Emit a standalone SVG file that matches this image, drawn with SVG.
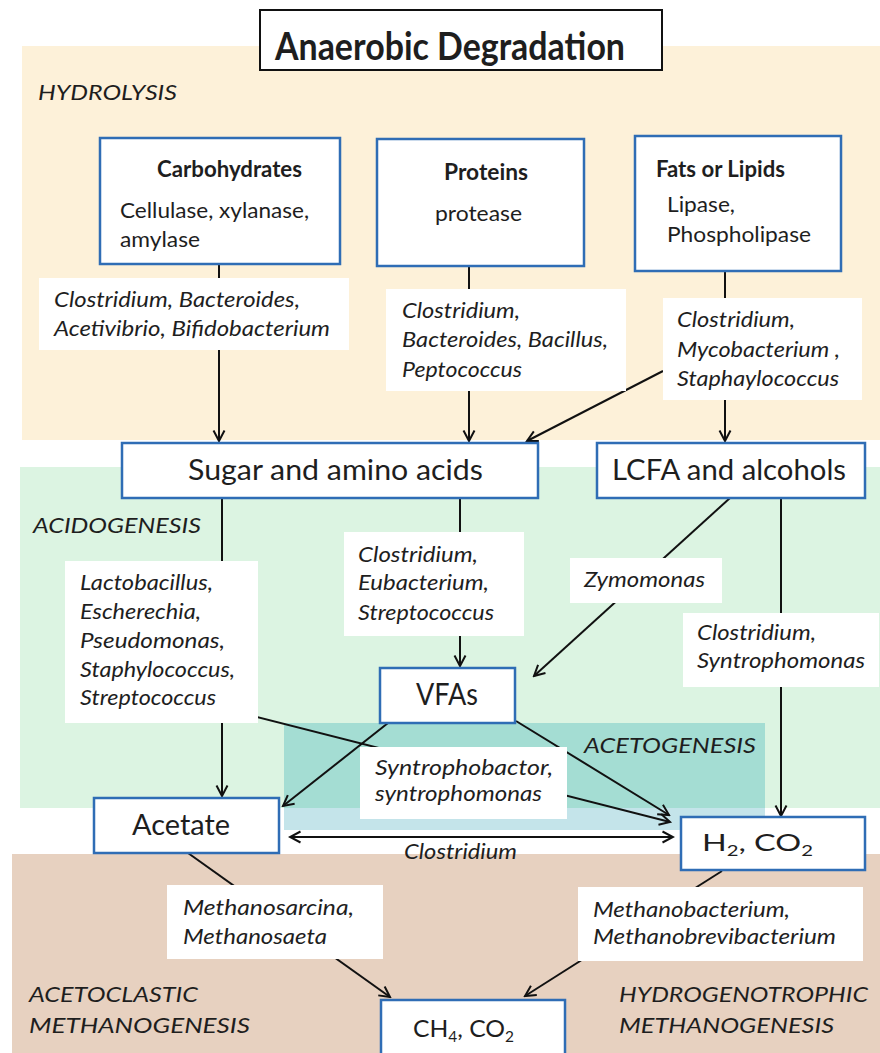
<svg xmlns="http://www.w3.org/2000/svg" width="880" height="1053" viewBox="0 0 880 1053">
<defs>
<style>
.t{font-family:Lato,"Liberation Sans",sans-serif;fill:#1e1e1e}
.i{font-style:italic}
.b{font-weight:bold}
.box{fill:#fff;stroke:#2f6db5;stroke-width:2.5}
.lab{fill:#fff}
.c{stroke:#111;stroke-width:2;fill:none}
.a{marker-end:url(#ah)}
</style>
<marker id="ah" viewBox="0 0 14 14" refX="12" refY="7" markerWidth="14" markerHeight="14" markerUnits="userSpaceOnUse" orient="auto-start-reverse">
<path d="M1.5,1.5 L12,7 L1.5,12.5" fill="none" stroke="#111" stroke-width="2"/>
</marker>
</defs>
<rect width="880" height="1053" fill="#fff"/>
<g id="backgrounds">
<rect x="22" y="46" width="858" height="394" fill="#fdf1d9"/>
<rect x="20" y="467" width="860" height="341" fill="#dcf4e2"/>
<rect x="284" y="723" width="481" height="85" fill="#a4ddd3"/>
<rect x="284" y="808" width="481" height="22" fill="#c4e4ea"/>
<rect x="12" y="854" width="868" height="199" fill="#e7d1c0"/>
</g>
<g id="stage-labels">
<text class="t i" x="38" y="100" font-size="22" textLength="139" lengthAdjust="spacingAndGlyphs">HYDROLYSIS</text>
<text class="t i" x="33" y="533" font-size="22" textLength="168" lengthAdjust="spacingAndGlyphs">ACIDOGENESIS</text>
<text class="t i" x="584" y="753" font-size="22" textLength="172" lengthAdjust="spacingAndGlyphs">ACETOGENESIS</text>
<text class="t i" x="29" y="1002" font-size="22" textLength="169" lengthAdjust="spacingAndGlyphs">ACETOCLASTIC</text>
<text class="t i" x="29" y="1033" font-size="22" textLength="221" lengthAdjust="spacingAndGlyphs">METHANOGENESIS</text>
<text class="t i" x="619" y="1002" font-size="22" textLength="249" lengthAdjust="spacingAndGlyphs">HYDROGENOTROPHIC</text>
<text class="t i" x="619" y="1033" font-size="22" textLength="215" lengthAdjust="spacingAndGlyphs">METHANOGENESIS</text>
</g>
<g id="connectors">
<path class="c a" d="M219,262 L219,441"/>
<path class="c a" d="M469,266 L469,441"/>
<path class="c a" d="M725,271 L725,441"/>
<path class="c a" d="M663,371 L527,441"/>
<path class="c a" d="M222,498 L222,796"/>
<path class="c a" d="M460,498 L460,666"/>
<path class="c a" d="M730,498 L534,676"/>
<path class="c a" d="M781,498 L781,816"/>
<path class="c a" d="M388,723 L283,806"/>
<path class="c a" d="M516,721 L669,815"/>
<path class="c a" d="M253,716 L670,822"/>
<path class="c a" d="M290,837 L673,837" marker-start="url(#ah)"/>
<path class="c a" d="M188,853 L390,997"/>
<path class="c a" d="M722,871 L525,996"/>
</g>
<g id="title">
<rect x="260" y="10" width="402" height="60" fill="#fff" stroke="#111" stroke-width="2"/>
<text class="t b" x="275" y="60" font-size="39" textLength="350" lengthAdjust="spacingAndGlyphs">Anaerobic Degradation</text>
</g>
<g id="carbohydrates">
<rect class="box" x="100" y="138" width="240" height="126"/>
<text class="t b" x="157" y="177" font-size="22" textLength="145" lengthAdjust="spacingAndGlyphs">Carbohydrates</text>
<text class="t" x="120" y="218" font-size="22" textLength="189" lengthAdjust="spacingAndGlyphs">Cellulase, xylanase,</text>
<text class="t" x="120" y="247" font-size="22" textLength="80" lengthAdjust="spacingAndGlyphs">amylase</text>
</g>
<g id="proteins">
<rect class="box" x="377" y="139" width="207" height="127"/>
<text class="t b" x="444" y="180" font-size="22" textLength="84" lengthAdjust="spacingAndGlyphs">Proteins</text>
<text class="t" x="435" y="221" font-size="22" textLength="87" lengthAdjust="spacingAndGlyphs">protease</text>
</g>
<g id="fats">
<rect class="box" x="635" y="136" width="206" height="135"/>
<text class="t b" x="656" y="177" font-size="22" textLength="129" lengthAdjust="spacingAndGlyphs">Fats or Lipids</text>
<text class="t" x="667" y="212" font-size="22" textLength="68" lengthAdjust="spacingAndGlyphs">Lipase,</text>
<text class="t" x="667" y="242" font-size="22" textLength="144" lengthAdjust="spacingAndGlyphs">Phospholipase</text>
</g>
<g id="label-carb">
<rect class="lab" x="39" y="278" width="310" height="72"/>
<text class="t i" x="54" y="307" font-size="20.5" textLength="246" lengthAdjust="spacingAndGlyphs">Clostridium, Bacteroides,</text>
<text class="t i" x="54" y="336" font-size="20.5" textLength="276" lengthAdjust="spacingAndGlyphs">Acetivibrio, Bifidobacterium</text>
</g>
<g id="label-prot">
<rect class="lab" x="386" y="289" width="240" height="102"/>
<text class="t i" x="402" y="318" font-size="20.5" textLength="118" lengthAdjust="spacingAndGlyphs">Clostridium,</text>
<text class="t i" x="402" y="347" font-size="20.5" textLength="206" lengthAdjust="spacingAndGlyphs">Bacteroides, Bacillus,</text>
<text class="t i" x="402" y="377" font-size="20.5" textLength="120" lengthAdjust="spacingAndGlyphs">Peptococcus</text>
</g>
<g id="label-fats">
<rect class="lab" x="663" y="298" width="199" height="102"/>
<text class="t i" x="677" y="327" font-size="20.5" textLength="118" lengthAdjust="spacingAndGlyphs">Clostridium,</text>
<text class="t i" x="677" y="357" font-size="20.5" textLength="163" lengthAdjust="spacingAndGlyphs">Mycobacterium ,</text>
<text class="t i" x="677" y="386" font-size="20.5" textLength="162" lengthAdjust="spacingAndGlyphs">Staphaylococcus</text>
</g>
<g id="sugar">
<rect class="box" x="122" y="443" width="416" height="55"/>
<text class="t" x="188" y="480" font-size="29" textLength="295" lengthAdjust="spacingAndGlyphs">Sugar and amino acids</text>
</g>
<g id="lcfa">
<rect class="box" x="597" y="443" width="268" height="55"/>
<text class="t" x="612" y="480" font-size="29" textLength="234" lengthAdjust="spacingAndGlyphs">LCFA and alcohols</text>
</g>
<g id="label-acido-left">
<rect class="lab" x="65" y="561" width="193" height="162"/>
<text class="t i" x="80" y="590" font-size="21" textLength="133" lengthAdjust="spacingAndGlyphs">Lactobacillus,</text>
<text class="t i" x="80" y="619" font-size="21" textLength="121" lengthAdjust="spacingAndGlyphs">Escherechia,</text>
<text class="t i" x="80" y="648" font-size="21" textLength="145" lengthAdjust="spacingAndGlyphs">Pseudomonas,</text>
<text class="t i" x="80" y="677" font-size="21" textLength="155" lengthAdjust="spacingAndGlyphs">Staphylococcus,</text>
<text class="t i" x="80" y="705" font-size="21" textLength="136" lengthAdjust="spacingAndGlyphs">Streptococcus</text>
</g>
<g id="label-acido-mid">
<rect class="lab" x="344" y="532" width="180" height="104"/>
<text class="t i" x="358" y="562" font-size="21" textLength="120" lengthAdjust="spacingAndGlyphs">Clostridium,</text>
<text class="t i" x="358" y="590" font-size="21" textLength="131" lengthAdjust="spacingAndGlyphs">Eubacterium,</text>
<text class="t i" x="358" y="620" font-size="21" textLength="136" lengthAdjust="spacingAndGlyphs">Streptococcus</text>
</g>
<g id="label-zymomonas">
<rect class="lab" x="570" y="558" width="152" height="45"/>
<text class="t i" x="584" y="587" font-size="21" textLength="121" lengthAdjust="spacingAndGlyphs">Zymomonas</text>
</g>
<g id="label-acido-right">
<rect class="lab" x="683" y="613" width="196" height="74"/>
<text class="t i" x="697" y="640" font-size="21" textLength="119" lengthAdjust="spacingAndGlyphs">Clostridium,</text>
<text class="t i" x="697" y="668" font-size="21" textLength="168" lengthAdjust="spacingAndGlyphs">Syntrophomonas</text>
</g>
<g id="vfas">
<rect class="box" x="380" y="668" width="135" height="55"/>
<text class="t" x="416" y="705" font-size="30" textLength="62" lengthAdjust="spacingAndGlyphs">VFAs</text>
</g>
<g id="label-aceto">
<rect class="lab" x="360" y="747" width="207" height="72"/>
<text class="t i" x="375" y="775" font-size="21" textLength="178" lengthAdjust="spacingAndGlyphs">Syntrophobactor,</text>
<text class="t i" x="375" y="801" font-size="21" textLength="167" lengthAdjust="spacingAndGlyphs">syntrophomonas</text>
</g>
<g id="acetate">
<rect class="box" x="94" y="798" width="185" height="55"/>
<text class="t" x="132" y="835" font-size="29" textLength="98" lengthAdjust="spacingAndGlyphs">Acetate</text>
</g>
<g id="h2co2">
<rect class="box" x="681" y="817" width="184" height="53"/>
<text class="t" x="702" y="851" font-size="24" textLength="111" lengthAdjust="spacingAndGlyphs">H<tspan font-size="15" dy="5">2</tspan><tspan dy="-5">, CO</tspan><tspan font-size="15" dy="5">2</tspan></text>
</g>
<g id="label-clostridium">
<text class="t i" x="404" y="859" font-size="21" textLength="113" lengthAdjust="spacingAndGlyphs">Clostridium</text>
</g>
<g id="label-acetoclastic">
<rect class="lab" x="167" y="885" width="216" height="74"/>
<text class="t i" x="183" y="915" font-size="20.5" textLength="171" lengthAdjust="spacingAndGlyphs">Methanosarcina,</text>
<text class="t i" x="183" y="944" font-size="20.5" textLength="144" lengthAdjust="spacingAndGlyphs">Methanosaeta</text>
</g>
<g id="label-hydrogeno">
<rect class="lab" x="578" y="887" width="285" height="74"/>
<text class="t i" x="593" y="917" font-size="20.5" textLength="197" lengthAdjust="spacingAndGlyphs">Methanobacterium,</text>
<text class="t i" x="593" y="944" font-size="20.5" textLength="243" lengthAdjust="spacingAndGlyphs">Methanobrevibacterium</text>
</g>
<g id="ch4co2">
<rect class="box" x="381" y="1000" width="184" height="62"/>
<text class="t" x="413" y="1037" font-size="24" textLength="101" lengthAdjust="spacingAndGlyphs">CH<tspan font-size="15" dy="5">4</tspan><tspan dy="-5">, CO</tspan><tspan font-size="15" dy="5">2</tspan></text>
</g>
</svg>
